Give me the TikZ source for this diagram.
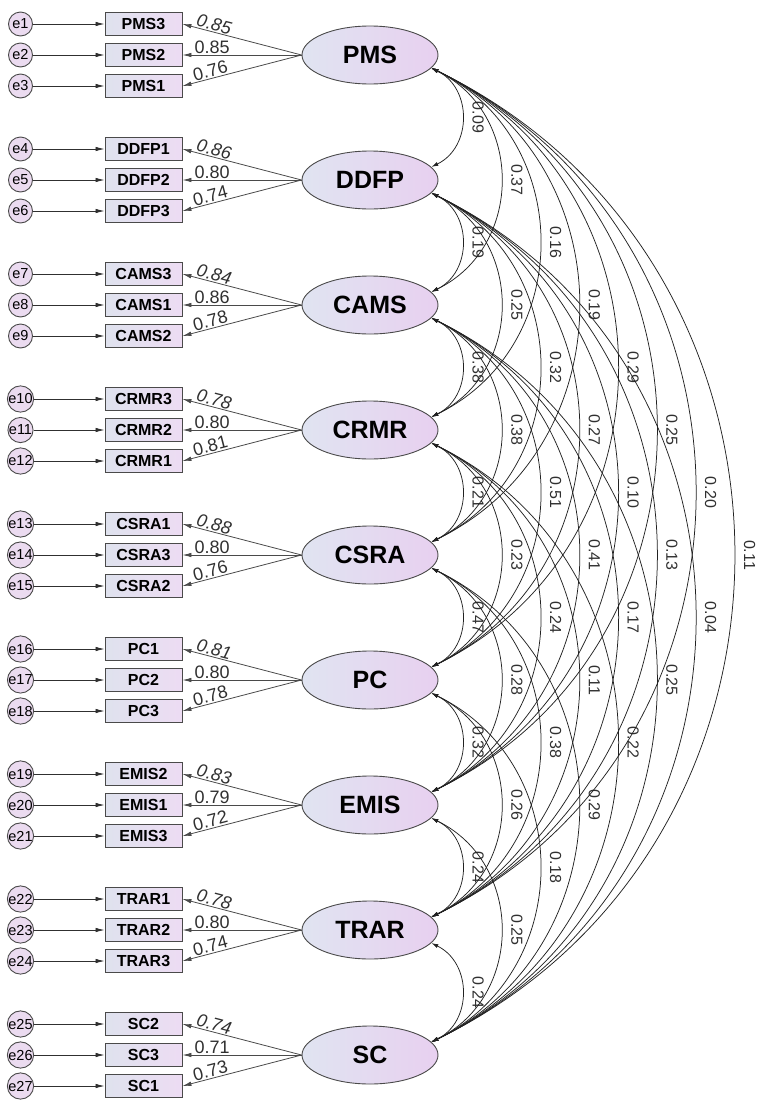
\documentclass[tikz,border=0pt]{standalone}
\usepackage{fontspec}
\setmainfont{Liberation Sans}
\usetikzlibrary{shapes.geometric,arrows.meta}
\definecolor{lnc}{HTML}{4A4A4A}
\definecolor{facl}{HTML}{E0E4F1}
\definecolor{facr}{HTML}{E8D0F0}
\definecolor{indl}{HTML}{DFE2EE}
\definecolor{indr}{HTML}{EDDCF3}
\definecolor{errc}{HTML}{EBDBF0}
\definecolor{labc}{HTML}{303030}
\definecolor{covc}{HTML}{222222}
\newcommand\covarc[3]{\draw[covar] (#1.-12) to[bend left=64, looseness=1.18] node[covlab]{#3} (#2.12);}
\begin{document}
\begin{tikzpicture}[x=1pt,y=-1pt,
  factor/.style={ellipse, draw=lnc, line width=0.9pt, minimum width=136pt, minimum height=58pt, inner sep=0pt, left color=facl, right color=facr, font=\fontsize{25}{25}\selectfont\bfseries},
  ind/.style={rectangle, draw=lnc, line width=0.9pt, minimum width=77pt, minimum height=23pt, inner sep=0pt, left color=indl, right color=indr, font=\fontsize{16}{16}\selectfont\bfseries},
  err/.style={circle, draw=lnc, line width=0.9pt, minimum size=24pt, inner sep=0pt, fill=errc, font=\fontsize{14.5}{14.5}\selectfont},
  earrow/.style={draw=labc, line width=0.8pt, -{Latex[length=9pt,width=4.5pt]}},
  load/.style={draw=lnc, line width=0.8pt, -{Latex[length=9pt,width=4.5pt]}},
  llab/.style={pos=0.75, above, sloped, inner sep=1pt, text=labc, font=\fontsize{18}{18}\selectfont},
  covar/.style={draw=covc, line width=0.75pt, {Latex[length=7pt,width=4pt]}-{Latex[length=7pt,width=4pt]}},
  covlab/.style={pos=0.5, rotate=-90, anchor=south, inner xsep=1pt, inner ysep=10pt, text=labc, font=\fontsize{16}{16}\selectfont}
]
\useasboundingbox (0,0) rectangle (757,1101);
\foreach \f/\a/\b/\c/\la/\lb/\lc [count=\k from 0] in {
  PMS/PMS3/PMS2/PMS1/0.85/0.85/0.76,
  DDFP/DDFP1/DDFP2/DDFP3/0.86/0.80/0.74,
  CAMS/CAMS3/CAMS1/CAMS2/0.84/0.86/0.78,
  CRMR/CRMR3/CRMR2/CRMR1/0.78/0.80/0.81,
  CSRA/CSRA1/CSRA3/CSRA2/0.88/0.80/0.76,
  PC/PC1/PC2/PC3/0.81/0.80/0.78,
  EMIS/EMIS2/EMIS1/EMIS3/0.83/0.79/0.72,
  TRAR/TRAR1/TRAR2/TRAR3/0.78/0.80/0.74,
  SC/SC2/SC3/SC1/0.74/0.71/0.73}{
  \pgfmathsetmacro\yy{55+125*\k}
  \pgfmathtruncatemacro\eone{3*\k+1}
  \pgfmathtruncatemacro\etwo{3*\k+2}
  \pgfmathtruncatemacro\ethree{3*\k+3}
  \node[factor] (\f) at (370,\yy) {\f};
  \node[ind] (\a) at (143.5,\yy-31) {\a};
  \node[ind] (\b) at (143.5,\yy) {\b};
  \node[ind] (\c) at (143.5,\yy+31) {\c};
  \node[err] (e\eone) at (20.5,\yy-31) {e\eone};
  \node[err] (e\etwo) at (20.5,\yy) {e\etwo};
  \node[err] (e\ethree) at (20.5,\yy+31) {e\ethree};
  \draw[earrow] (e\eone) -- (\a);
  \draw[earrow] (e\etwo) -- (\b);
  \draw[earrow] (e\ethree) -- (\c);
  \draw[load] (\f.west) -- node[llab, font=\fontsize{18}{18}\selectfont\itshape]{\la} (\a.east);
  \draw[load] (\f.west) -- node[llab]{\lb} (\b.east);
  \draw[load] (\f.west) -- node[llab]{\lc} (\c.east);
}
% distance 1
\covarc{PMS}{DDFP}{0.09}
\covarc{DDFP}{CAMS}{0.19}
\covarc{CAMS}{CRMR}{0.38}
\covarc{CRMR}{CSRA}{0.21}
\covarc{CSRA}{PC}{0.47}
\covarc{PC}{EMIS}{0.32}
\covarc{EMIS}{TRAR}{0.24}
\covarc{TRAR}{SC}{0.24}
% distance 2
\covarc{PMS}{CAMS}{0.37}
\covarc{DDFP}{CRMR}{0.25}
\covarc{CAMS}{CSRA}{0.38}
\covarc{CRMR}{PC}{0.23}
\covarc{CSRA}{EMIS}{0.28}
\covarc{PC}{TRAR}{0.26}
\covarc{EMIS}{SC}{0.25}
% distance 3
\covarc{PMS}{CRMR}{0.16}
\covarc{DDFP}{CSRA}{0.32}
\covarc{CAMS}{PC}{0.51}
\covarc{CRMR}{EMIS}{0.24}
\covarc{CSRA}{TRAR}{0.38}
\covarc{PC}{SC}{0.18}
% distance 4
\covarc{PMS}{CSRA}{0.19}
\covarc{DDFP}{PC}{0.27}
\covarc{CAMS}{EMIS}{0.41}
\covarc{CRMR}{TRAR}{0.11}
\covarc{CSRA}{SC}{0.29}
% distance 5
\covarc{PMS}{PC}{0.29}
\covarc{DDFP}{EMIS}{0.10}
\covarc{CAMS}{TRAR}{0.17}
\covarc{CRMR}{SC}{0.22}
% distance 6
\covarc{PMS}{EMIS}{0.25}
\covarc{DDFP}{TRAR}{0.13}
\covarc{CAMS}{SC}{0.25}
% distance 7
\covarc{PMS}{TRAR}{0.20}
\covarc{DDFP}{SC}{0.04}
% distance 8
\covarc{PMS}{SC}{0.11}
\end{tikzpicture}
\end{document}
